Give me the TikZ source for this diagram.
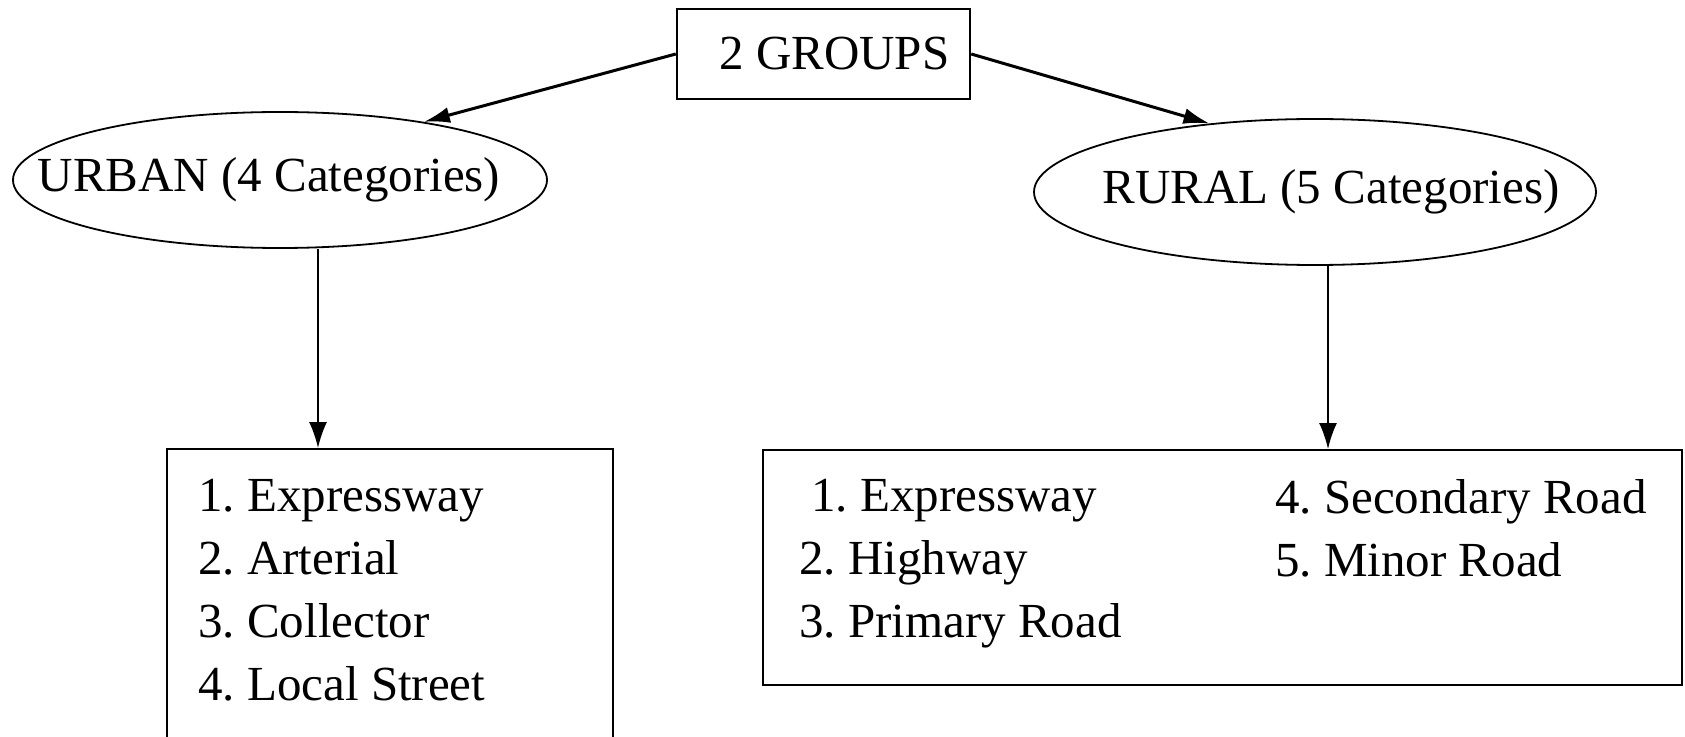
\documentclass[tikz,border=0pt]{standalone}
\usepackage{fontspec}
\setmainfont{Liberation Serif}
\frenchspacing
\usetikzlibrary{arrows.meta,shapes.geometric}
\begin{document}
\begin{tikzpicture}[x=0.5pt, y=-0.5pt,
		every node/.style={font=\fontsize{24.5pt}{31.5pt}\selectfont},
		groupbox/.style={draw, line width=1.2pt, minimum width=146.5pt, minimum height=45pt},
		classellipse/.style={draw, ellipse, line width=0.9pt, inner sep=0pt},
		listbox/.style={draw, line width=1.2pt, anchor=north},
		listtext/.style={anchor=north west, align=left, inner sep=0pt},
		diagarrow/.style={-{Latex[length=13pt,width=8pt]}, line width=1.5pt},
		downarrow/.style={-{Latex[length=13pt,width=9pt]}, line width=0.9pt}]
	\useasboundingbox (0,0) rectangle (1685,737);
	\clip (0,0) rectangle (1685,737);
	\node[groupbox] (groups) at (823.5,54) {\hspace*{11pt}2 GROUPS};
	\node[classellipse, minimum width=267pt, minimum height=68pt] (urban) at (280,180)
		{\makebox[0pt]{URBAN (4 Categories)\hspace*{11pt}}};
	\node[classellipse, minimum width=281pt, minimum height=73pt] (rural) at (1315,192)
		{\makebox[0pt]{\hspace*{16pt}RURAL (5 Categories)}};
	\node[listbox, minimum width=223pt, minimum height=170pt] (ubox) at (390,448) {};
	\node[listbox, minimum width=459.5pt, minimum height=117.5pt] (rbox) at (1222.5,449) {};
	\node[listtext] (ulist) at ([xshift=16pt, yshift=-15.5pt]ubox.north west)
		{1. Expressway\\2. Arterial\\3. Collector\\4. Local Street};
	\node[listtext] (rlistA) at ([xshift=18.5pt, yshift=-15pt]rbox.north west)
		{\hspace*{6pt}1. Expressway\\2. Highway\\3. Primary Road};
	\node[listtext] (rlistB) at ([xshift=256.5pt, yshift=-15pt]rbox.north west)
		{4. Secondary Road\\5. Minor Road};
	\draw[diagarrow] (groups.west) -- (urban.22);
	\draw[diagarrow] (groups.east) -- (rural.147);
	\draw[downarrow] ([xshift=19pt]urban.south) -- ([xshift=19pt]urban.south |- ubox.north);
	\draw[downarrow] ([xshift=6.5pt]rural.south) -- ([xshift=6.5pt]rural.south |- rbox.north);
\end{tikzpicture}
\end{document}
